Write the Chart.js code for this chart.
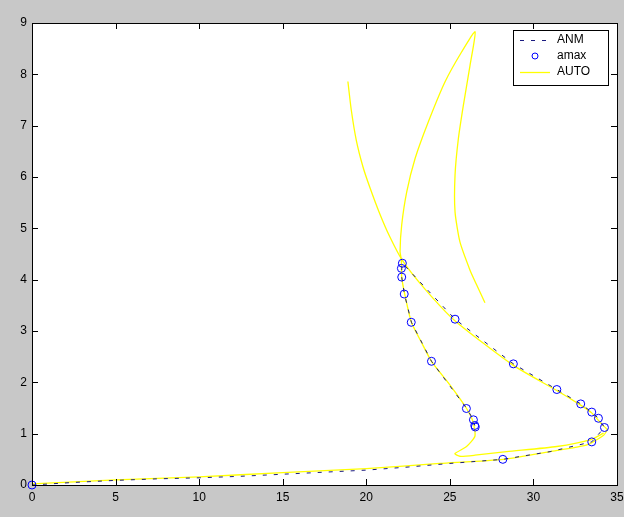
<!DOCTYPE html>
<html>
<head>
<meta charset="utf-8">
<script src="https://cdn.jsdelivr.net/npm/chart.js@4/dist/chart.umd.min.js"></script>
<style>
  html, body { margin: 0; padding: 0; background: #c8c8c8; }
  #wrap { width: 624px; height: 517px; }
</style>
</head>
<body>
<div id="wrap"><canvas id="chart" width="624" height="517"></canvas></div>
<script>
// tick values
var xTickValues = [0, 5, 10, 15, 20, 25, 30, 35];
var yTickValues = [0, 1, 2, 3, 4, 5, 6, 7, 8, 9];

// ANM (dashed) path
var anmX = [0, 2.5, 5, 7.5, 10, 12.5, 15, 17.5, 20, 22.5, 25, 28.17, 31.0, 33.49, 34.25, 33.89, 33.49, 32.83, 31.40, 28.80, 25.31, 22.16, 22.12, 22.12, 22.28, 22.70, 23.90, 26.01, 26.41, 26.49];
var anmY = [0, 0.05, 0.09, 0.12, 0.14, 0.17, 0.21, 0.25, 0.29, 0.35, 0.42, 0.50, 0.65, 0.84, 1.12, 1.30, 1.42, 1.58, 1.86, 2.36, 3.23, 4.32, 4.22, 4.05, 3.72, 3.17, 2.41, 1.49, 1.27, 1.16];

// amax markers
var amaxX = [0, 28.17, 33.49, 34.25, 33.89, 33.49, 32.83, 31.40, 28.80, 25.31, 22.16, 22.10, 22.12, 22.27, 22.69, 23.90, 25.99, 26.41, 26.49, 26.52];
var amaxY = [0, 0.50, 0.84, 1.12, 1.30, 1.42, 1.58, 1.86, 2.36, 3.23, 4.32, 4.22, 4.05, 3.72, 3.17, 2.41, 1.49, 1.27, 1.16, 1.13];

// AUTO, first branch: bottom, upper return, up-left arm
var auto1X = [0, 5, 10, 15, 20, 24.4, 28.2, 31.0, 33.2, 34.2, 34.4, 34.1, 33.5, 32.8, 31.4, 28.8, 25.3, 23.5, 22.15, 21.4, 20.8, 20.2, 19.8, 19.4, 19.1, 18.9];
var auto1Y = [0.02, 0.10, 0.16, 0.24, 0.32, 0.42, 0.50, 0.65, 0.78, 0.97, 1.08, 1.18, 1.40, 1.56, 1.84, 2.33, 3.20, 3.82, 4.38, 4.84, 5.29, 5.81, 6.20, 6.72, 7.31, 7.86];

// AUTO, second branch: right arm, peak, middle limb, left limb, hook
var auto2X = [27.1, 26.6, 26.2, 25.6, 25.31, 25.31, 25.51, 25.81, 26.21, 26.51, 25.71, 24.72, 23.72, 22.92, 22.42, 22.12, 22.02, 22.1, 22.12, 22.3, 22.7, 23.3, 23.9, 25.0, 26.0, 26.4, 26.5, 26.0, 25.3, 25.6, 26.5, 28.4, 31.4, 33.4, 34.2];
var auto2Y = [3.55, 3.90, 4.19, 4.74, 5.32, 6.04, 6.75, 7.40, 8.18, 8.83, 8.44, 7.86, 7.08, 6.36, 5.71, 5.07, 4.55, 4.38, 4.05, 3.72, 3.17, 2.78, 2.41, 1.95, 1.49, 1.22, 0.95, 0.75, 0.61, 0.56, 0.58, 0.65, 0.75, 0.88, 1.01];

function toPoints(xs, ys) {
    return xs.map(function (x, i) {
        return { x: x, y: ys[i] };
    });
}

var FONT = '"Liberation Sans", Arial, Helvetica, sans-serif';

// grey figure, white axes, black frame with inward ticks
var framePlugin = {
    id: 'frame',
    beforeDraw: function (chart) {
        var ctx = chart.ctx, a = chart.chartArea;
        ctx.save();
        ctx.fillStyle = '#c8c8c8';
        ctx.fillRect(0, 0, chart.width, chart.height);
        ctx.fillStyle = '#ffffff';
        ctx.fillRect(a.left, a.top, a.right - a.left, a.bottom - a.top);
        ctx.restore();
    },
    afterDatasetsDraw: function (chart) {
        var ctx = chart.ctx, a = chart.chartArea,
            xs = chart.scales.x, ys = chart.scales.y, len = 6;
        ctx.save();
        ctx.strokeStyle = '#000';
        ctx.lineWidth = 1;
        ctx.beginPath();
        xs.ticks.forEach(function (t) {
            var px = Math.round(xs.getPixelForValue(t.value)) + 0.5;
            ctx.moveTo(px, a.bottom); ctx.lineTo(px, a.bottom - len);
            ctx.moveTo(px, a.top); ctx.lineTo(px, a.top + len);
        });
        ys.ticks.forEach(function (t) {
            var py = Math.round(ys.getPixelForValue(t.value)) + 0.5;
            ctx.moveTo(a.left, py); ctx.lineTo(a.left + len, py);
            ctx.moveTo(a.right, py); ctx.lineTo(a.right - len, py);
        });
        ctx.stroke();
        ctx.strokeRect(Math.round(a.left) + 0.5, Math.round(a.top) + 0.5,
            Math.round(a.right - a.left), Math.round(a.bottom - a.top));
        ctx.restore();
    }
};

// boxed legend in the upper right of the axes
var legendOrder = [1, 0, 2];
var legendPlugin = {
    id: 'boxLegend',
    afterDraw: function (chart) {
        var ctx = chart.ctx, a = chart.chartArea,
            w = 95, h = 55,
            x = Math.round(a.right - 9 - w), y = Math.round(a.top + 7);
        ctx.save();
        ctx.fillStyle = '#fff';
        ctx.fillRect(x, y, w, h);
        ctx.strokeStyle = '#000';
        ctx.lineWidth = 1;
        ctx.strokeRect(x + 0.5, y + 0.5, w, h);
        ctx.font = '12px ' + FONT;
        ctx.textBaseline = 'middle';
        legendOrder.forEach(function (idx, i) {
            var ds = chart.data.datasets[idx],
                cy = y + 10 + i * 16;
            ctx.save();
            if (ds.showLine) {
                ctx.strokeStyle = ds.borderColor;
                ctx.lineWidth = ds.borderWidth;
                ctx.setLineDash(ds.borderDash || []);
                ctx.beginPath();
                ctx.moveTo(x + 7, cy + 0.5);
                ctx.lineTo(x + 37, cy + 0.5);
                ctx.stroke();
            } else {
                ctx.strokeStyle = ds.pointBorderColor;
                ctx.lineWidth = ds.pointBorderWidth;
                ctx.beginPath();
                ctx.arc(x + 22, cy, ds.pointRadius - 1, 0, Math.PI * 2);
                ctx.stroke();
            }
            ctx.restore();
            ctx.fillStyle = '#000';
            ctx.fillText(ds.label, x + 44, cy);
        });
        ctx.restore();
    }
};

new Chart(document.getElementById('chart'), {
    type: 'scatter',
    data: {
        datasets: [{
            label: 'amax',
            data: toPoints(amaxX, amaxY),
            showLine: false,
            pointStyle: 'circle',
            pointRadius: 4,
            pointBorderWidth: 1,
            pointBorderColor: '#0000ff',
            pointBackgroundColor: 'rgba(0,0,0,0)',
            clip: false,
            order: 0
        }, {
            label: 'ANM',
            data: toPoints(anmX, anmY),
            showLine: true,
            borderColor: '#1a1a80',
            borderWidth: 1,
            borderDash: [4, 7],
            pointRadius: 0,
            tension: 0,
            order: 1
        }, {
            label: 'AUTO',
            data: toPoints(auto1X, auto1Y),
            showLine: true,
            borderColor: '#ffff00',
            borderWidth: 1.3,
            pointRadius: 0,
            tension: 0.2,
            order: 2
        }, {
            label: 'AUTO',
            data: toPoints(auto2X, auto2Y),
            showLine: true,
            borderColor: '#ffff00',
            borderWidth: 1.3,
            pointRadius: 0,
            tension: 0.2,
            order: 3
        }]
    },
    options: {
        responsive: false,
        animation: false,
        layout: { padding: { top: 23, right: 7, left: 0, bottom: 0 } },
        plugins: {
            legend: { display: false },
            tooltip: { enabled: false }
        },
        scales: {
            x: {
                type: 'linear',
                min: 0,
                max: 35,
                afterBuildTicks: function (scale) {
                    scale.ticks = xTickValues.map(function (v) { return { value: v }; });
                },
                afterFit: function (scale) {
                    scale.height = 32;
                    scale.paddingLeft = 0;
                    scale.paddingRight = 0;
                },
                grid: { display: false, drawTicks: false },
                border: { display: false },
                ticks: { color: '#000', padding: 5, maxRotation: 0, font: { family: FONT, size: 12 } }
            },
            y: {
                type: 'linear',
                min: 0,
                max: 9,
                afterBuildTicks: function (scale) {
                    scale.ticks = yTickValues.map(function (v) { return { value: v }; });
                },
                afterFit: function (scale) {
                    scale.width = 32;
                    scale.paddingTop = 0;
                    scale.paddingBottom = 0;
                },
                grid: { display: false, drawTicks: false },
                border: { display: false },
                ticks: { color: '#000', padding: 5, font: { family: FONT, size: 12 } }
            }
        }
    },
    plugins: [framePlugin, legendPlugin]
});
</script>
</body>
</html>
